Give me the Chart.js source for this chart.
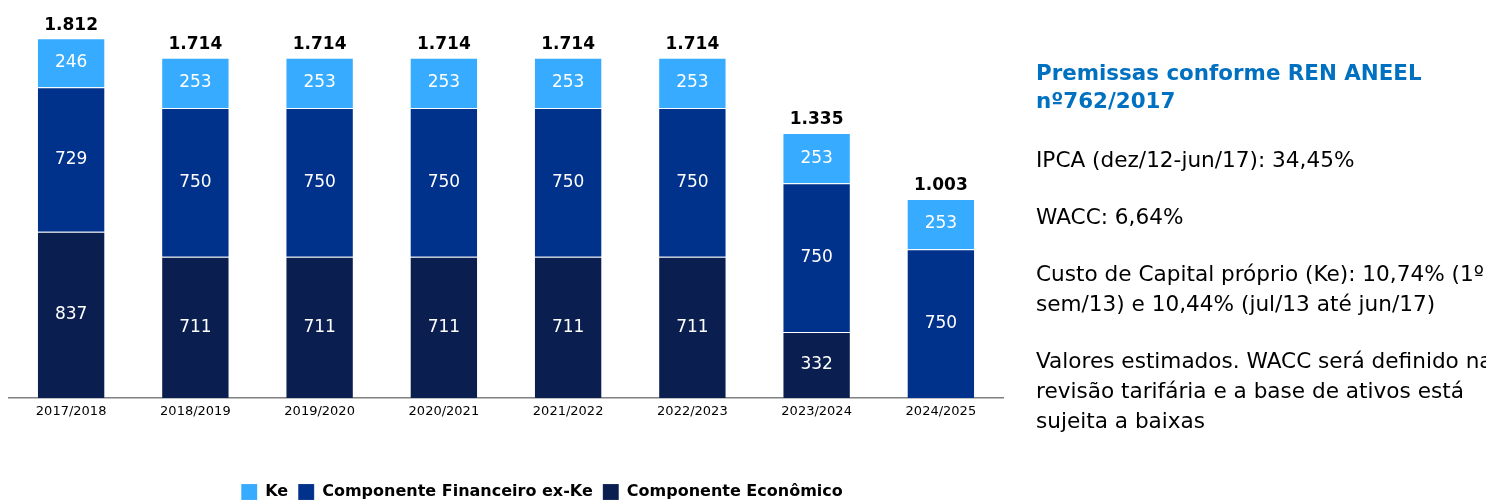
<!DOCTYPE html>
<html lang="pt-BR">
<head>
<meta charset="utf-8">
<script src="https://cdn.jsdelivr.net/npm/chart.js@4/dist/chart.umd.min.js"></script>
<style>
  html, body { margin: 0; padding: 0; background: #fff; overflow: hidden; width: 1486px; height: 500px; }
  #wrap { position: absolute; left: 0; top: 0; width: 1075px; height: 510px; }
  .txt { position: absolute; left: 1036px; white-space: nowrap; font-family: "DejaVu Sans", sans-serif; color: #000; }
  .title { font-weight: bold; color: #0070C0; font-size: 21.4px; line-height: 28px; }
  .body { font-size: 21.6px; line-height: 30px; }
</style>
</head>
<body>
<div id="wrap"><canvas id="capChart"></canvas></div>

<div class="txt title" style="top:59px">Premissas conforme REN ANEEL<br>nº762/2017</div>
<div class="txt body" style="top:145px">IPCA (dez/12-jun/17): 34,45%</div>
<div class="txt body" style="top:202px">WACC: 6,64%</div>
<div class="txt body" style="top:259px">Custo de Capital próprio (Ke): 10,74% (1º<br>sem/13) e 10,44% (jul/13 até jun/17)</div>
<div class="txt body" style="top:346px">Valores estimados. WACC será definido na<br>revisão tarifária e a base de ativos está<br>sujeita a baixas</div>

<script>
// dados do gráfico
const periods = ["2017/2018", "2018/2019", "2019/2020", "2020/2021", "2021/2022", "2022/2023", "2023/2024", "2024/2025"];
const economico = [837, 711, 711, 711, 711, 711, 332, 0];
const financeiro = [729, 750, 750, 750, 750, 750, 750, 750];
const ke = [246, 253, 253, 253, 253, 253, 253, 253];

const FONT = "DejaVu Sans";

function fmt(n) {
    return String(n).replace(/\B(?=(\d{3})+(?!\d))/g, ".");
}

// rótulos dentro das barras e totais acima
const barLabels = {
    id: "barLabels",
    afterDatasetsDraw(chart) {
        const ctx = chart.ctx;
        ctx.save();
        ctx.textAlign = "center";
        ctx.textBaseline = "middle";
        ctx.fillStyle = "#ffffff";
        ctx.font = "17px '" + FONT + "'";
        chart.data.datasets.forEach((ds, i) => {
            chart.getDatasetMeta(i).data.forEach((bar, j) => {
                const v = ds.data[j];
                if (!v) return;
                ctx.fillText(String(v), bar.x, (bar.y + bar.base) / 2);
            });
        });
        // totais
        const topMeta = chart.getDatasetMeta(chart.data.datasets.length - 1);
        ctx.fillStyle = "#000000";
        ctx.font = "bold 17px '" + FONT + "'";
        topMeta.data.forEach((bar, j) => {
            const total = economico[j] + financeiro[j] + ke[j];
            ctx.fillText(fmt(total), bar.x, bar.y - 13);
        });
        ctx.restore();
    }
};

const ctx = document.getElementById("capChart").getContext("2d");
const capChart = new Chart(ctx, {
    type: "bar",
    data: {
        labels: periods,
        datasets: [
            { label: "Componente Econômico", data: economico, backgroundColor: "#0A1F4F" },
            { label: "Componente Financeiro ex-Ke", data: financeiro, backgroundColor: "#00318B" },
            { label: "Ke", data: ke, backgroundColor: "#36ABFF" }
        ]
    },
    options: {
        responsive: true,
        maintainAspectRatio: false,
        animation: false,
        layout: { padding: { left: 9, top: 1, right: 0, bottom: 0 } },
        datasets: {
            bar: {
                categoryPercentage: 1,
                barPercentage: 0.55,
                borderWidth: 1,
                borderColor: "rgba(255,255,255,0.13)",
                borderSkipped: "bottom"
            }
        },
        scales: {
            x: {
                stacked: true,
                grid: { display: false, drawTicks: false },
                border: { display: true, color: "#808080", width: 1.5 },
                ticks: { color: "#000", font: { family: FONT, size: 13 }, padding: 6 },
                afterFit: s => { s.height = 76; }
            },
            y: {
                stacked: true,
                position: "right",
                min: 0,
                max: 2000,
                grid: { display: false },
                border: { display: false },
                ticks: { display: false },
                afterFit: s => { s.width = 72; }
            }
        },
        plugins: {
            tooltip: { enabled: false },
            legend: {
                position: "bottom",
                reverse: true,
                labels: {
                    boxWidth: 16,
                    boxHeight: 16,
                    padding: 10,
                    color: "#000",
                    font: { family: FONT, size: 16, weight: "bold" }
                }
            }
        }
    },
    plugins: [barLabels]
});
</script>
</body>
</html>
